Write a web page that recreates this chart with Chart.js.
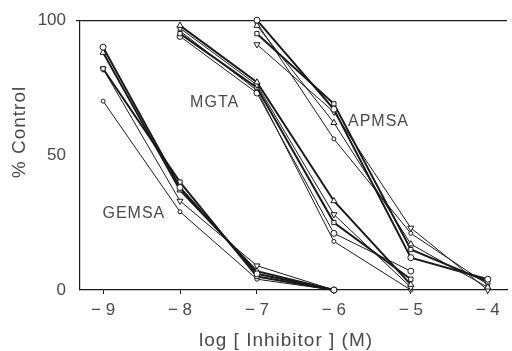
<!DOCTYPE html>
<html lang="en">
<head>
  <meta charset="UTF-8">
  <title>% Control vs log [Inhibitor]</title>
  <script src="https://cdn.jsdelivr.net/npm/chart.js"></script>
  <style>
    body {
      margin: 0;
      padding: 0;
      background-color: #fff;
    }

    #wrap {
      width: 512px;
      height: 351px;
      position: relative;
    }
  </style>
</head>
<body>
  <div id="wrap">
    <canvas id="chart"></canvas>
  </div>

  <script>
    // x positions (log molar) for each inhibitor
    const gemsaX = [-9, -8, -7, -6];
    const mgtaX = [-8, -7, -6, -5];
    const apmsaX = [-7, -6, -5, -4];

    // % control, one array per replicate
    const gemsaCircle = [90, 38, 6, 0];
    const gemsaTriangle = [88, 37, 7, 0];
    const gemsaSquare = [82, 40, 5, 0];
    const gemsaInv = [82, 33, 9, 0];
    const gemsaSmall = [70, 29, 4, 0];

    const mgtaTriangle = [98, 77, 33, 2];
    const mgtaInv = [97, 76, 28, 1];
    const mgtaSquare = [95, 75, 25, 4];
    const mgtaCircle = [94, 73, 21, 7];
    const mgtaSmall = [96, 74, 18, 0];

    const apmsaCircle = [100, 67, 12, 4];
    const apmsaTriangle = [98, 62, 17, 1];
    const apmsaSquare = [95, 69, 15, 3];
    const apmsaInv = [91, 66, 23, 0];
    const apmsaSmall = [99, 56, 21, 2];

    const xTicks = [-9, -8, -7, -6, -5, -4];
    const yLabelled = [0, 50, 100];

    // text labels placed in data units
    const labels = [
      { text: 'GEMSA', x: -8.6, y: 28.5 },
      { text: 'MGTA', x: -7.55, y: 69.5 },
      { text: 'APMSA', x: -5.42, y: 62.5 }
    ];

    const FONT = "'Liberation Sans', Arial, sans-serif";
    const INK = '#1a1a1a';
    const TEXT = '#4a4a4a';

    function series(xs, ys, style, width, radius, rotation) {
      return {
        data: xs.map((x, i) => ({ x: x, y: ys[i] })),
        borderColor: INK,
        borderWidth: width,
        pointStyle: style,
        pointRotation: rotation || 0,
        pointRadius: radius,
        pointBackgroundColor: '#fff',
        pointBorderColor: INK,
        pointBorderWidth: 1,
        tension: 0
      };
    }

    const datasets = [
      series(gemsaX, gemsaCircle, 'circle', 2, 3),
      series(gemsaX, gemsaTriangle, 'triangle', 2, 3.5),
      series(gemsaX, gemsaSquare, 'rect', 2, 3),
      series(gemsaX, gemsaInv, 'triangle', 1, 3.5, 180),
      series(gemsaX, gemsaSmall, 'circle', 1, 2),

      series(mgtaX, mgtaTriangle, 'triangle', 2, 3.5),
      series(mgtaX, mgtaInv, 'triangle', 1, 3.5, 180),
      series(mgtaX, mgtaSquare, 'rect', 2, 3),
      series(mgtaX, mgtaCircle, 'circle', 1, 3),
      series(mgtaX, mgtaSmall, 'circle', 1, 2),

      series(apmsaX, apmsaCircle, 'circle', 2, 3),
      series(apmsaX, apmsaTriangle, 'triangle', 1, 3.5),
      series(apmsaX, apmsaSquare, 'rect', 2, 3),
      series(apmsaX, apmsaInv, 'triangle', 1, 3.5, 180),
      series(apmsaX, apmsaSmall, 'circle', 1, 2)
    ];

    // draws the curve names and the two axis titles
    const textPlugin = {
      id: 'textPlugin',
      afterDraw(chart) {
        const ctx = chart.ctx;
        const xs = chart.scales.x;
        const ys = chart.scales.y;
        ctx.save();
        ctx.fillStyle = TEXT;
        ctx.textAlign = 'center';
        ctx.textBaseline = 'middle';
        ctx.font = '16px ' + FONT;
        ctx.letterSpacing = '1px';
        labels.forEach(l => {
          ctx.fillText(l.text, xs.getPixelForValue(l.x), ys.getPixelForValue(l.y));
        });

        ctx.font = '19px ' + FONT;
        ctx.fillText('log [ Inhibitor ] (M)', 286, 341);

        ctx.translate(20, 132);
        ctx.rotate(-Math.PI / 2);
        ctx.fillText('% Control', 0, 0);
        ctx.restore();
      }
    };

    new Chart(document.getElementById('chart'), {
      type: 'line',
      data: { datasets: datasets },
      options: {
        responsive: true,
        maintainAspectRatio: false,
        animation: false,
        layout: { padding: { top: 18, left: 0, right: 0, bottom: 0 } },
        plugins: {
          legend: { display: false },
          tooltip: { enabled: false }
        },
        datasets: { line: { clip: false } },
        scales: {
          x: {
            type: 'linear',
            min: -9.3,
            max: -3.75,
            afterBuildTicks(scale) {
              scale.ticks = xTicks.map(v => ({ value: v }));
            },
            afterFit(scale) {
              scale.height = 61;
            },
            border: { color: INK, width: 1.2 },
            grid: {
              drawOnChartArea: false,
              tickLength: 4,
              color: INK
            },
            ticks: {
              color: TEXT,
              font: { family: FONT, size: 17 },
              padding: 6,
              maxRotation: 0,
              callback: v => '\u2212 ' + Math.abs(v)
            }
          },
          y: {
            min: 0,
            max: 100,
            afterBuildTicks(scale) {
              const t = [];
              for (let v = 0; v <= 100; v += 10) t.push({ value: v });
              scale.ticks = t;
            },
            afterFit(scale) {
              scale.width = 80;
            },
            border: { color: INK, width: 1.2 },
            grid: {
              drawOnChartArea: true,
              tickLength: 4,
              color: ctx => (ctx.tick && ctx.tick.value === 100) ? INK : 'rgba(0,0,0,0)',
              lineWidth: 1.2
            },
            ticks: {
              color: TEXT,
              font: { family: FONT, size: 17 },
              padding: 10,
              callback: v => yLabelled.includes(v) ? String(v) : ''
            }
          }
        }
      },
      plugins: [textPlugin]
    });
  </script>
</body>
</html>
